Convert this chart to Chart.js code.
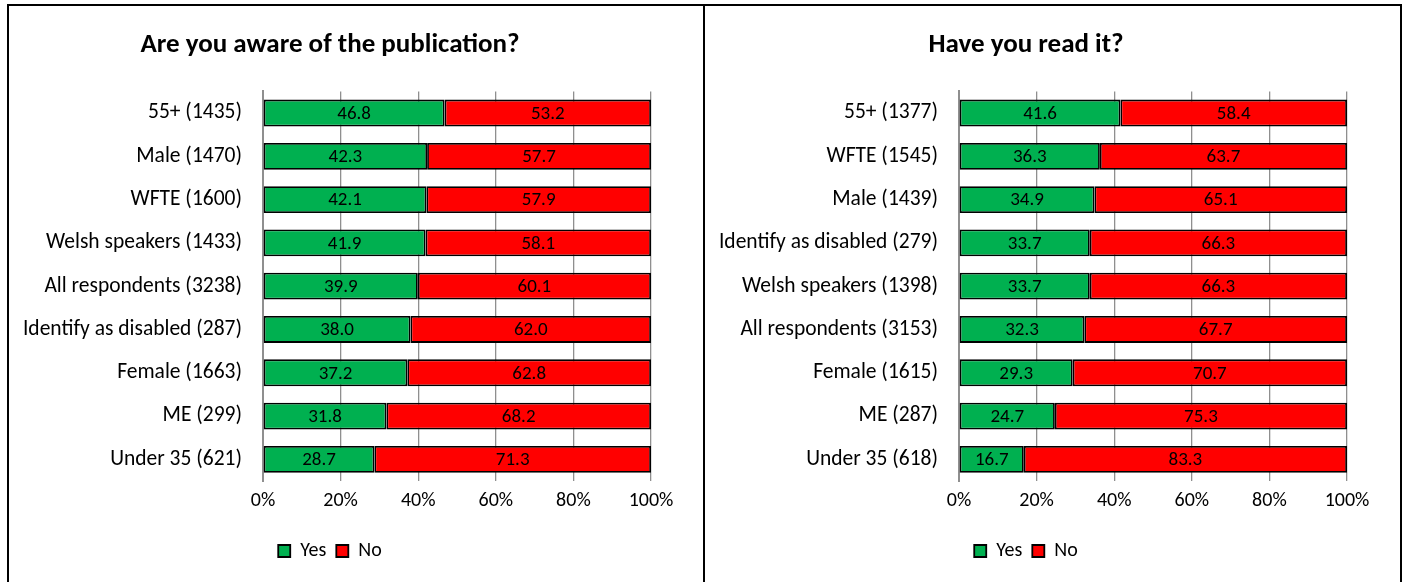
<!DOCTYPE html>
<html>
<head>
<meta charset="utf-8">
<script src="https://cdn.jsdelivr.net/npm/chart.js@4.4.1/dist/chart.umd.min.js"></script>
<style>
    body { margin: 0; background: #fff; }
    .painel { position: absolute; top: 4px; height: 600px; border: 2px solid #000; }
    #painelAware { left: 7px; width: 694px; }
    #painelRead { left: 703px; width: 695px; }
    canvas { display: block; }
</style>
</head>
<body>
<div class="painel" id="painelAware"><canvas id="graficoAware" width="694" height="576"></canvas></div>
<div class="painel" id="painelRead"><canvas id="graficoRead" width="695" height="576"></canvas></div>

<script>
const fonte = 'Carlito, Lato, sans-serif';

const tituloAware = 'Are you aware of the publication?';
const gruposAware = ['55+ (1435)', 'Male (1470)', 'WFTE (1600)', 'Welsh speakers (1433)', 'All respondents (3238)',
    'Identify as disabled (287)', 'Female (1663)', 'ME (299)', 'Under 35 (621)'];
const simAware = [46.8, 42.3, 42.1, 41.9, 39.9, 38.0, 37.2, 31.8, 28.7];
const naoAware = [53.2, 57.7, 57.9, 58.1, 60.1, 62.0, 62.8, 68.2, 71.3];

const tituloRead = 'Have you read it?';
const gruposRead = ['55+ (1377)', 'WFTE (1545)', 'Male (1439)', 'Identify as disabled (279)', 'Welsh speakers (1398)',
    'All respondents (3153)', 'Female (1615)', 'ME (287)', 'Under 35 (618)'];
const simRead = [41.6, 36.3, 34.9, 33.7, 33.7, 32.3, 29.3, 24.7, 16.7];
const naoRead = [58.4, 63.7, 65.1, 66.3, 66.3, 67.7, 70.7, 75.3, 83.3];

const ticksX = [0, 20, 40, 60, 80, 100];

// escreve o valor no meio de cada barra
const rotulosBarras = {
    id: 'rotulosBarras',
    afterDatasetsDraw(chart) {
        const ctx = chart.ctx;
        ctx.save();
        ctx.font = '19px ' + fonte;
        ctx.fillStyle = '#000';
        ctx.textAlign = 'center';
        ctx.textBaseline = 'middle';
        chart.data.datasets.forEach((dataset, i) => {
            chart.getDatasetMeta(i).data.forEach((barra, j) => {
                const centro = barra.getCenterPoint();
                ctx.fillText(dataset.data[j].toFixed(1), centro.x, centro.y + 1);
            });
        });
        ctx.restore();
    }
};

function criaGrafico(canvasId, titulo, grupos, sim, nao, direita) {
    return new Chart(document.getElementById(canvasId), {
        type: 'bar',
        data: {
            labels: grupos,
            datasets: [{
                label: 'Yes',
                data: sim,
                backgroundColor: '#00B050',
                borderColor: '#000',
                borderWidth: 1.8,
                borderSkipped: false
            }, {
                label: 'No',
                data: nao,
                backgroundColor: '#FF0000',
                borderColor: '#000',
                borderWidth: 1.8,
                borderSkipped: false
            }]
        },
        options: {
            indexAxis: 'y',
            responsive: false,
            animation: false,
            barPercentage: 0.62,
            categoryPercentage: 1,
            layout: { padding: { left: 0, right: direita, top: 0, bottom: 11 } },
            plugins: {
                title: {
                    display: true,
                    text: titulo,
                    color: '#000',
                    font: { family: fonte, size: 27, weight: 'bold' },
                    padding: { top: 23, bottom: 30 }
                },
                legend: {
                    position: 'bottom',
                    labels: {
                        color: '#000',
                        font: { family: fonte, size: 20 },
                        boxWidth: 12,
                        boxHeight: 12,
                        padding: 10
                    }
                },
                tooltip: { enabled: false }
            },
            scales: {
                x: {
                    stacked: true,
                    min: 0,
                    max: 100,
                    afterBuildTicks: (scale) => {
                        scale.ticks = ticksX.map(v => ({ value: v }));
                    },
                    afterFit: (scale) => { scale.height = 50; },
                    ticks: {
                        color: '#000',
                        font: { family: fonte, size: 20 },
                        padding: 8,
                        callback: (v) => v + '%'
                    },
                    grid: { color: '#8f8f8f', lineWidth: 1.3, drawTicks: false },
                    border: { display: false }
                },
                y: {
                    stacked: true,
                    afterFit: (scale) => { scale.width = 254; },
                    ticks: {
                        color: '#000',
                        font: { family: fonte, size: 21.5 },
                        padding: 21
                    },
                    grid: { display: false, drawTicks: false },
                    border: { display: true, color: '#8f8f8f', width: 2 }
                }
            }
        },
        plugins: [rotulosBarras]
    });
}

const graficoAware = criaGrafico('graficoAware', tituloAware, gruposAware, simAware, naoAware, 52);
const graficoRead = criaGrafico('graficoRead', tituloRead, gruposRead, simRead, naoRead, 53);
</script>
</body>
</html>
